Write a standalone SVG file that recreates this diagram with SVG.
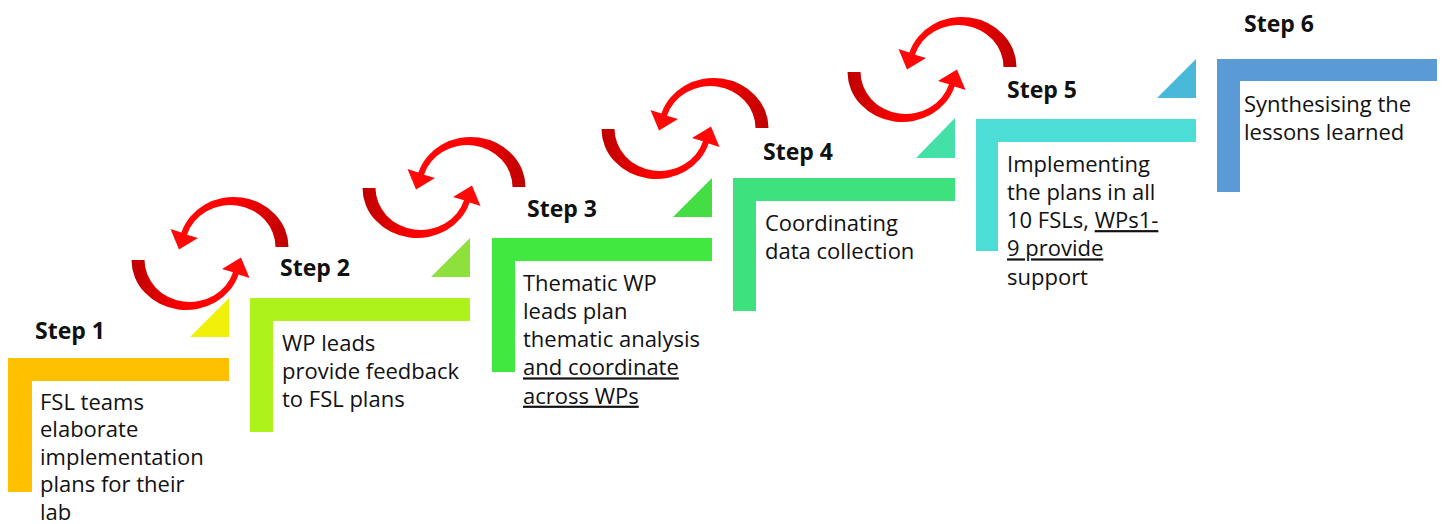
<svg xmlns="http://www.w3.org/2000/svg" xmlns:xlink="http://www.w3.org/1999/xlink" width="1443" height="524" viewBox="0 0 1443 524">
<style>
.lbl{font-family:"Open Sans","Liberation Sans",sans-serif;font-weight:bold;font-size:23px;fill:#111}
.txt{font-family:"Open Sans","Liberation Sans",sans-serif;font-size:22px;fill:#111}
.u{text-decoration:underline}
.arc{fill:url(#redgrad)}
</style>
<defs>
<linearGradient id="redgrad" x1="1" y1="0" x2="0" y2="0">
<stop offset="0" stop-color="#BE0000"/>
<stop offset="0.15" stop-color="#D20000"/>
<stop offset="0.45" stop-color="#FF0000"/>
<stop offset="1" stop-color="#FF0A0A"/>
</linearGradient>
<path id="arc" d="M0.5,0 A54.75,50 0 0 0 -106.6,-14.6 L-117.5,-18 L-109,2.5 L-90,-9 L-101,-12.3 A45.25,42 0 0 1 -12.5,0 Z"/>
</defs>
<rect width="1443" height="524" fill="#ffffff"/>

<g id="step1">
<polygon points="190,337 229,337 229,298" fill="#F0F00A"/>
<path d="M8,358 H229 V381 H32 V492 H8 Z" fill="#FFC000"/>
<text class="lbl" x="35" y="339">Step 1</text>
<text class="txt" x="40" y="409.5"><tspan x="40">FSL teams</tspan><tspan x="40" dy="27.6">elaborate</tspan><tspan x="40" dy="27.6">implementation</tspan><tspan x="40" dy="27.6">plans for their</tspan><tspan x="40" dy="27.6">lab</tspan></text>
</g>

<g id="step2">
<polygon points="431,277 470,277 470,238" fill="#8EE03C"/>
<path d="M250,298 H470 V321 H273 V432 H250 Z" fill="#ADF21A"/>
<text class="lbl" x="280" y="276">Step 2</text>
<text class="txt" x="282" y="350.5"><tspan x="282">WP leads</tspan><tspan x="282" dy="28.3">provide feedback</tspan><tspan x="282" dy="28.3">to FSL plans</tspan></text>
</g>

<g id="step3">
<polygon points="673,217 712,217 712,178" fill="#44DD44"/>
<path d="M492,238 H712 V261 H515 V372 H492 Z" fill="#40E840"/>
<text class="lbl" x="527" y="217">Step 3</text>
<text class="txt" x="523" y="290.5"><tspan x="523">Thematic WP</tspan><tspan x="523" dy="28.3">leads plan</tspan><tspan x="523" dy="28.3">thematic analysis</tspan><tspan x="523" dy="28.3" class="u">and coordinate</tspan><tspan x="523" dy="28.3" class="u">across WPs</tspan></text>
</g>

<g id="step4">
<polygon points="916,158 955,158 955,118" fill="#45E0A8"/>
<path d="M733,178 H955 V201 H756 V311 H733 Z" fill="#3DE27C"/>
<text class="lbl" x="763" y="160">Step 4</text>
<text class="txt" x="765" y="230.5"><tspan x="765">Coordinating</tspan><tspan x="765" dy="28.3">data collection</tspan></text>
</g>

<g id="step5">
<polygon points="1157,98 1196,98 1196,59" fill="#4AB9D9"/>
<path d="M976,119 H1196 V142 H998 V251 H976 Z" fill="#4CDED6"/>
<text class="lbl" x="1007" y="98">Step 5</text>
<text class="txt" x="1007" y="171.5"><tspan x="1007">Implementing</tspan><tspan x="1007" dy="28.3">the plans in all</tspan><tspan x="1007" dy="28.3">10 FSLs, </tspan><tspan class="u">WPs1-</tspan><tspan x="1007" dy="28.3" class="u">9 provide</tspan><tspan x="1007" dy="28.3">support</tspan></text>
</g>

<g id="step6">
<path d="M1217,59 H1437 V81 H1240 V192 H1217 Z" fill="#5B9BD5"/>
<text class="lbl" x="1244" y="32">Step 6</text>
<text class="txt" x="1244" y="111.5"><tspan x="1244">Synthesising the</tspan><tspan x="1244" dy="28.3">lessons learned</tspan></text>
</g>

<g id="connectors">
<use xlink:href="#arc" class="arc" transform="translate(288,247)"/>
<use xlink:href="#arc" class="arc" transform="translate(132,260) rotate(180)"/>
<use xlink:href="#arc" class="arc" transform="translate(525,187)"/>
<use xlink:href="#arc" class="arc" transform="translate(363,188) rotate(180)"/>
<use xlink:href="#arc" class="arc" transform="translate(768,128)"/>
<use xlink:href="#arc" class="arc" transform="translate(602,129) rotate(180)"/>
<use xlink:href="#arc" class="arc" transform="translate(1016,67)"/>
<use xlink:href="#arc" class="arc" transform="translate(848,72) rotate(180)"/>
</g>
</svg>
